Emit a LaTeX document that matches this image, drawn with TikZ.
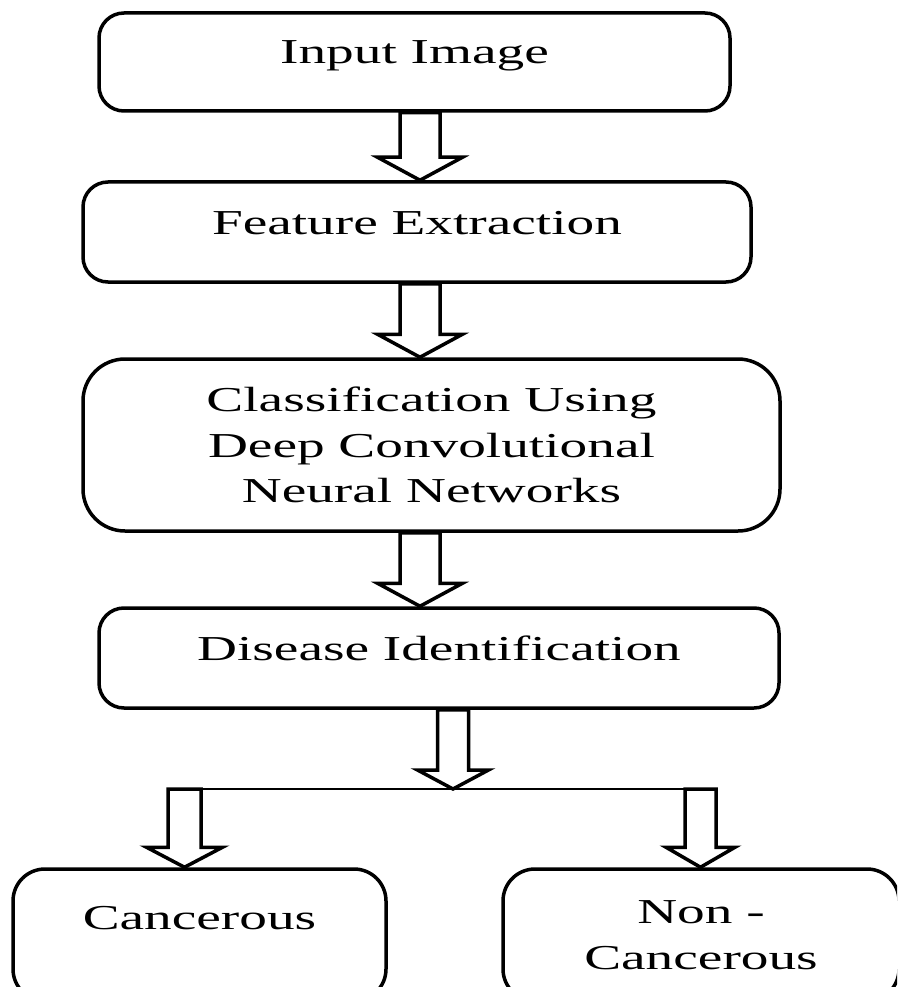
\documentclass[tikz,border=0pt]{standalone}
\usepackage{fontspec}
\setmainfont{Liberation Serif}[FakeStretch=1.58]
\usetikzlibrary{calc}

% hollow block arrow: start, tip, half shaft, half head, head length
\newcommand{\fatarrow}[5]{%
  \draw[fatline] let \p1=(#1), \p2=(#2) in
    (\x1-#3pt,\y1) -- (\x1-#3pt,\y2+#5pt) -- (\x1-#4pt,\y2+#5pt) -- (\x1,\y2)
    -- (\x1+#4pt,\y2+#5pt) -- (\x1+#3pt,\y2+#5pt) -- (\x1+#3pt,\y1) -- cycle;}

\begin{document}
\begin{tikzpicture}[x=1pt,y=1pt,
  box/.style={draw,line width=3.5pt,rounded corners=25pt,inner sep=0pt,
    font=\fontsize{35}{45.5}\selectfont},
  oneline/.style={text height=24pt,text depth=20pt},
  fatline/.style={line width=3.5pt,fill=white,line join=miter}]
  \useasboundingbox (0,0) rectangle (897,-987);
  \clip (0,0) rectangle (897,-987);

  \node[box,oneline,minimum width=631pt,minimum height=98pt] (inp) at (414.5,-62) {Input Image};
  \node[box,oneline,minimum width=668pt,minimum height=100pt] (feat) at (417,-232) {Feature Extraction};
  \node[box,rounded corners=42pt,align=center,minimum width=697pt,minimum height=172pt] (cls) at (431.5,-445)
    {Classification Using\\Deep Convolutional\\Neural Networks};
  \node[box,oneline,minimum width=680pt,minimum height=100pt] (dis) at (439,-658) {Disease Identification};
  \node[box,rounded corners=32pt,text height=24pt,text depth=36pt,minimum width=373pt,minimum height=132pt] (can) at (199.5,-935) {Cancerous};
  \node[box,rounded corners=32pt,align=center,minimum width=396pt,minimum height=132pt] (non) at (701,-935) {Non -\\Cancerous};

  \coordinate (ax) at (420,0);
  \coordinate (split) at (453,-789);
  \coordinate (lft) at (184.5,-789);
  \coordinate (rgt) at (700.5,-789);

  \fatarrow{inp.south -| ax}{feat.north -| ax}{20}{42.5}{23}
  \fatarrow{feat.south -| ax}{cls.north -| ax}{20}{42.5}{23}
  \fatarrow{cls.south -| ax}{dis.north -| ax}{20}{42.5}{23}
  \fatarrow{dis.south -| split}{split}{15.5}{35.5}{19}
  \draw[line width=2pt] (lft) -- (rgt);
  \fatarrow{lft}{can.north -| lft}{16.5}{38}{20}
  \fatarrow{rgt}{non.north -| rgt}{15.5}{34.5}{20}
\end{tikzpicture}
\end{document}
